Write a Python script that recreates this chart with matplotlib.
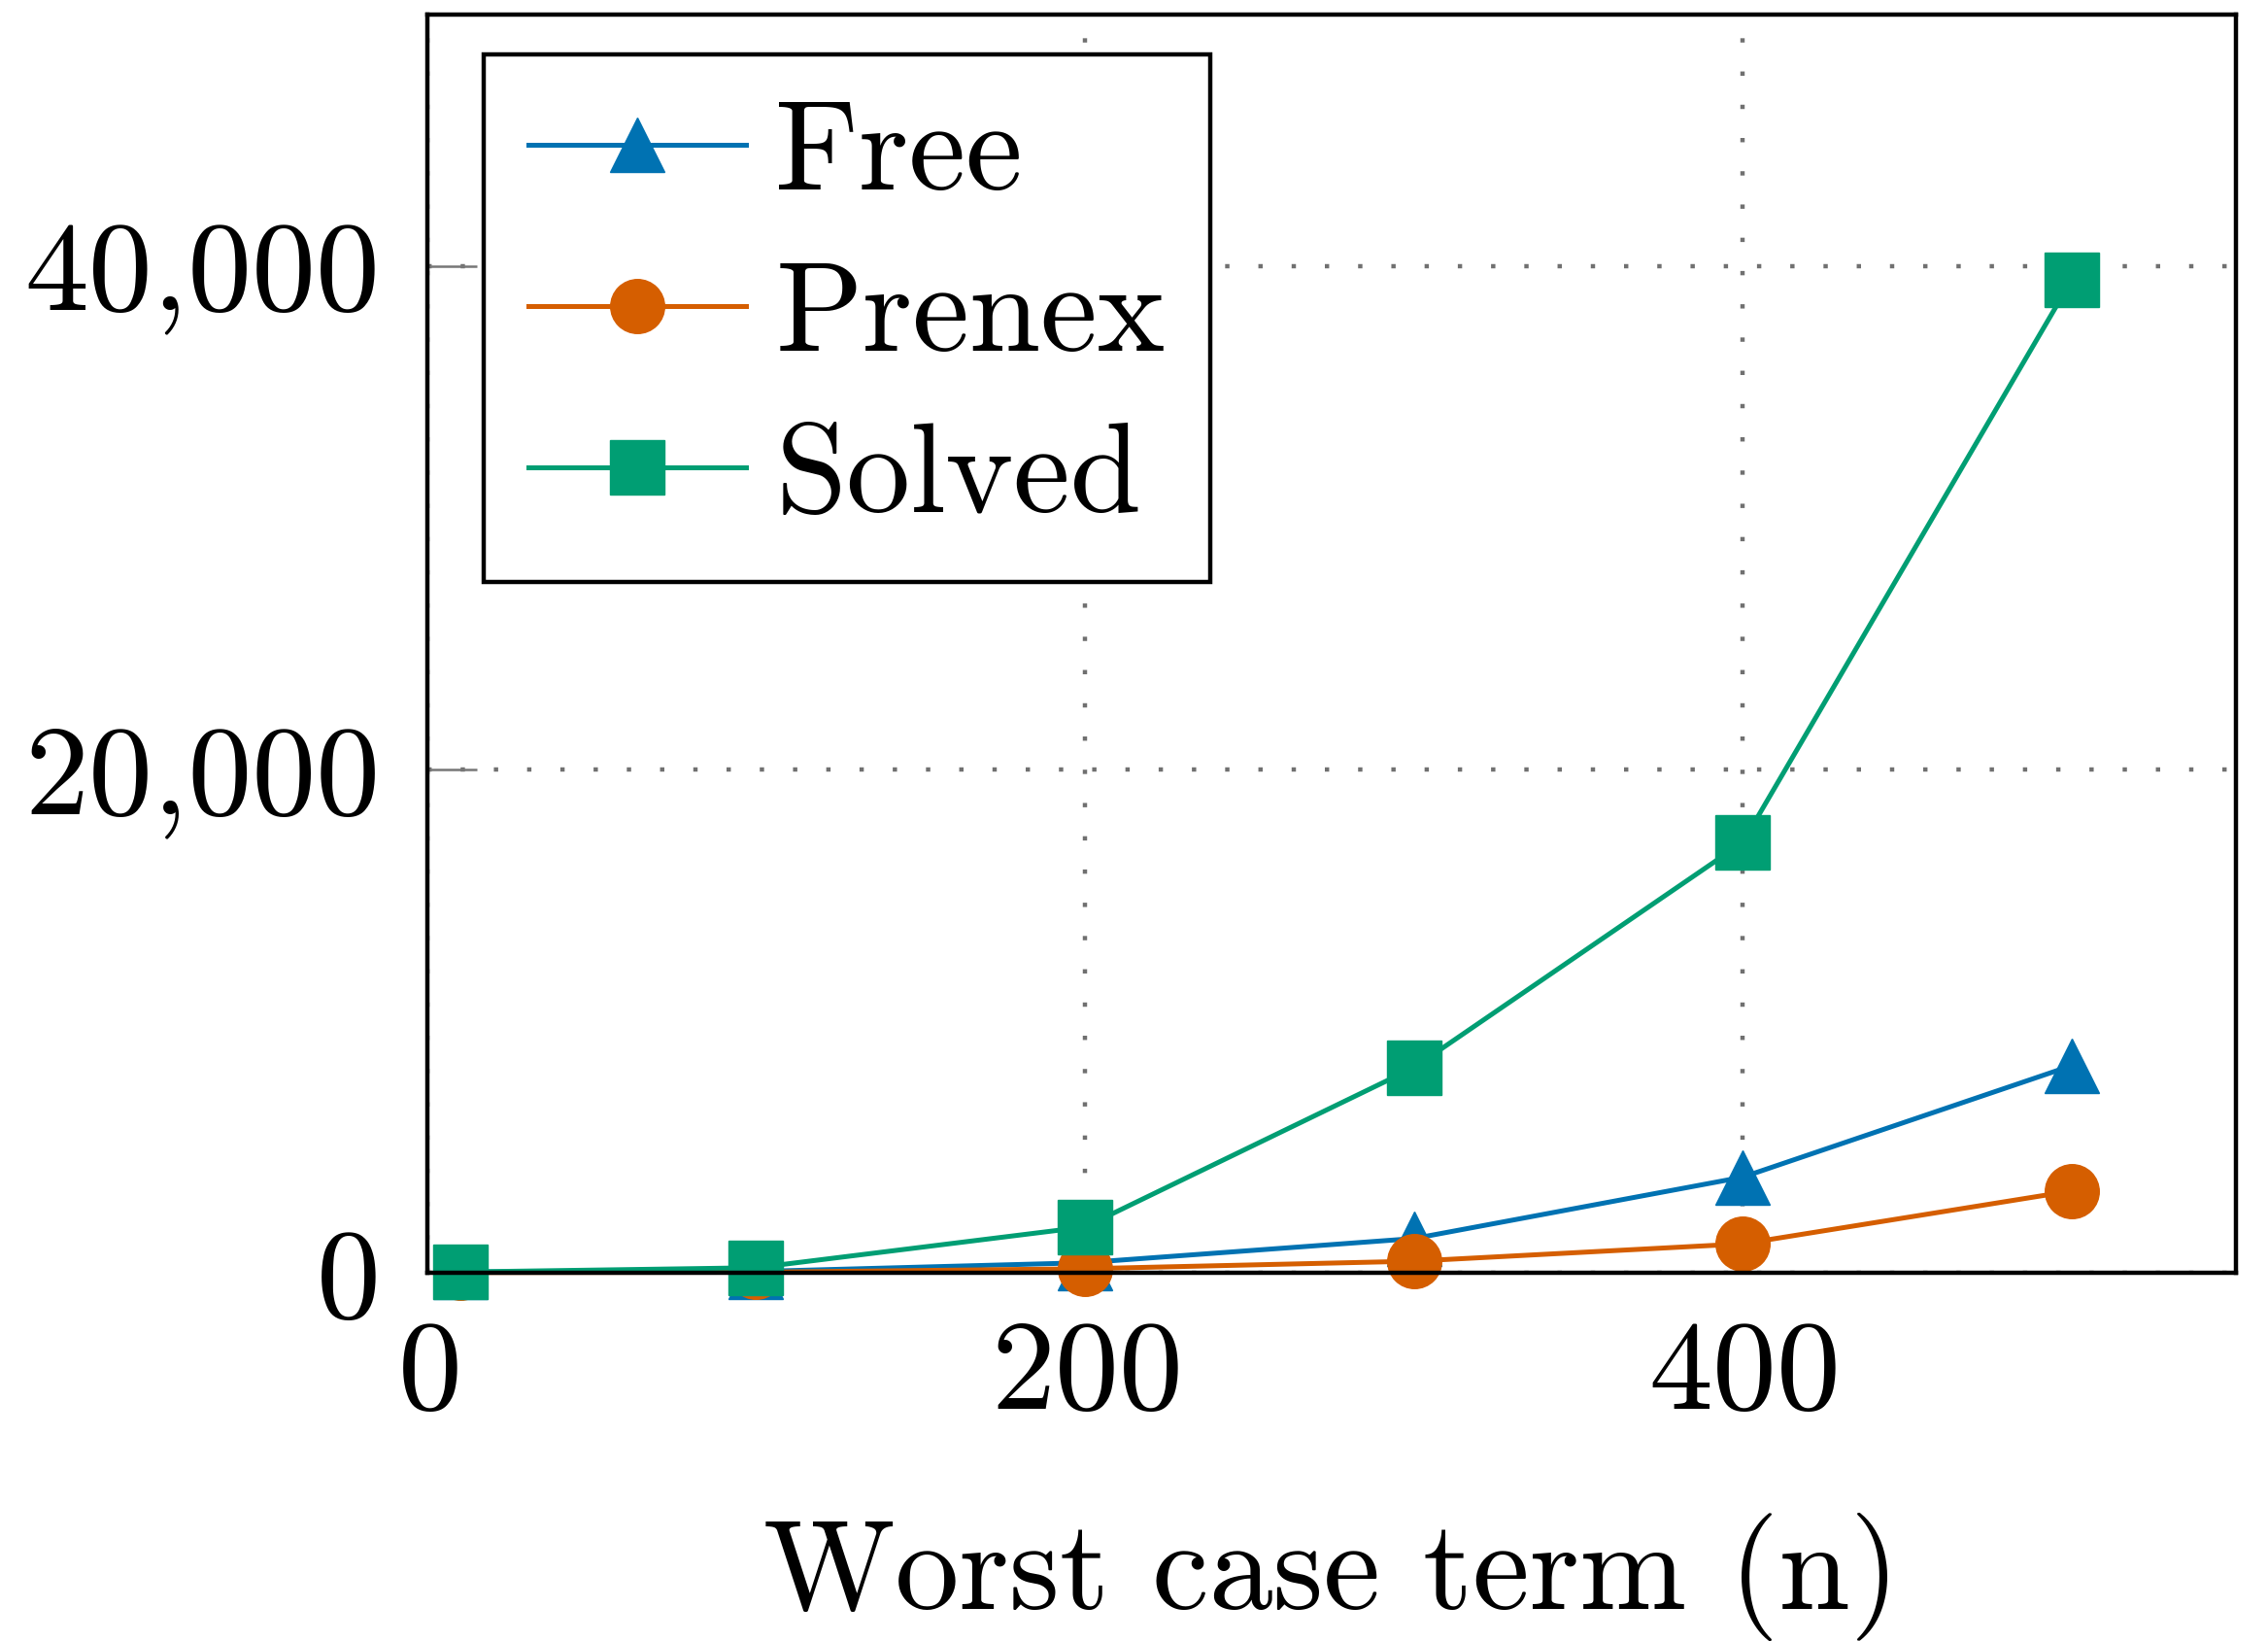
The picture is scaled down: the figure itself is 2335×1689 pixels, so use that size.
import matplotlib
matplotlib.use('Agg')
import matplotlib.pyplot as plt
from matplotlib.ticker import FuncFormatter

# data
n_vals = [10, 100, 200, 300, 400, 500]
free_vals = [30, 50, 400, 1360, 3800, 8230]
prenex_vals = [10, 20, 160, 460, 1150, 3250]
solved_vals = [30, 200, 1820, 8150, 17100, 39450]

c_free = '#0072B2'
c_prenex = '#D55E00'
c_solved = '#009E73'

plt.rcParams['font.family'] = ['cmr10', 'DejaVu Serif']
plt.rcParams['mathtext.fontset'] = 'cm'
plt.rcParams['axes.formatter.use_mathtext'] = True

fs = 95

fig = plt.figure(figsize=(23.35, 16.89), dpi=100)
ax = fig.add_axes([0.1884, 0.2244, 0.7975, 0.7667])

mk = dict(lw=3.6, clip_on=False)
ax.plot(n_vals, free_vals, color=c_free, marker='^', ms=40, label='Free', **mk)
ax.plot(n_vals, prenex_vals, color=c_prenex, marker='o', ms=40, label='Prenex', **mk)
ax.plot(n_vals, solved_vals, color=c_solved, marker='s', ms=41, label='Solved', **mk)

ax.set_xlim(0, 550)
ax.set_ylim(0, 50000)
ax.set_xticks([0, 200, 400])
ax.set_yticks([0, 20000, 40000])
ax.yaxis.set_major_formatter(FuncFormatter(lambda v, p: f'{v:,.0f}'))

ax.grid(True, color='#707070', linestyle=(0, (1, 6.7)), lw=3.2)
ax.set_axisbelow(True)
ax.tick_params(direction='in', length=37, width=1.8, color='#777777',
               labelsize=fs, pad=35)
for s in ax.spines.values():
    s.set_linewidth(3.2)

ax.set_xlabel('Worst case term (n)', fontsize=fs, labelpad=58)

leg = ax.legend(loc='upper left', bbox_to_anchor=(0.031, 0.968), fontsize=fs,
                numpoints=1, handlelength=1.7, handletextpad=0.23,
                borderpad=0.35, labelspacing=0.36, fancybox=False,
                framealpha=1, edgecolor='black', borderaxespad=0)
leg.get_frame().set_linewidth(3.2)

fig.savefig('out.png', dpi=100)
